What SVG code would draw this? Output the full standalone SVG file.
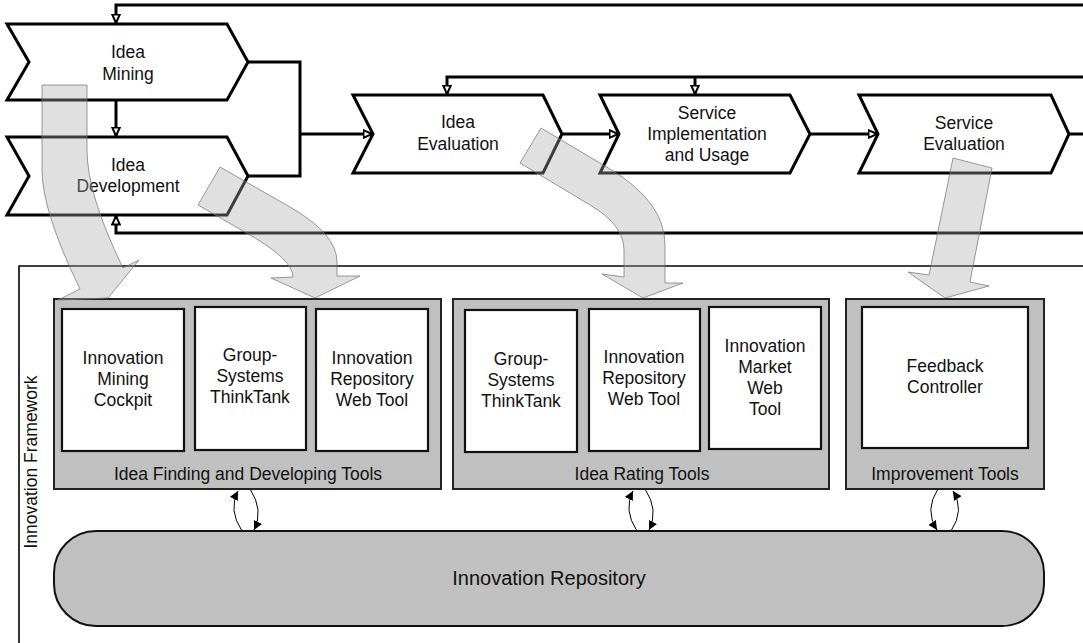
<svg xmlns="http://www.w3.org/2000/svg" width="1083" height="643" viewBox="0 0 1083 643">
<defs>
<style>
.txt{font-family:"Liberation Sans",Arial,sans-serif;font-size:17.5px;fill:#111;text-anchor:middle}
.chev{fill:#fff;stroke:#000;stroke-width:3;stroke-linejoin:miter}
.flow{fill:none;stroke:#000;stroke-width:3}
.grp{fill:#c0c0c0;stroke:#222;stroke-width:2}
.tool{fill:#fff;stroke:#111;stroke-width:2.2}
.band{fill:#a8a8a8;fill-opacity:0.36;stroke:#707070;stroke-opacity:0.7;stroke-width:1}
.bidi{fill:none;stroke:#000;stroke-width:1}
</style>
<marker id="ah" viewBox="0 0 10 10" refX="9.5" refY="5" markerWidth="10" markerHeight="10" markerUnits="userSpaceOnUse" orient="auto">
<path d="M1,1.2 L9.5,5 L1,8.8 Z" fill="#fff" stroke="#000" stroke-width="2"/>
</marker>
<marker id="sh" viewBox="0 0 10 10" refX="10" refY="5" markerWidth="9" markerHeight="9" markerUnits="userSpaceOnUse" orient="auto">
<path d="M0,0 L10,5 L0,10 Z" fill="#000"/>
</marker>
</defs>
<rect width="1083" height="643" fill="#fff"/>

<g id="frame">
<path d="M1083,266 L19,266 L19,643" fill="none" stroke="#000" stroke-width="1.6"/>
<text class="txt" transform="translate(37,462) rotate(-90)">Innovation Framework</text>
</g>

<g id="connectors">
<path class="flow" d="M1083,5 L116,5 L116,23" marker-end="url(#ah)"/>
<path class="flow" d="M116,100 L116,136" marker-end="url(#ah)"/>
<path class="flow" d="M1083,233 L116,233 L116,216" marker-end="url(#ah)"/>
<path class="flow" d="M248,62 L300,62 L300,176 L248,176"/>
<path class="flow" d="M300,134 L372,134" marker-end="url(#ah)"/>
<path class="flow" d="M1083,77 L447,77 L447,94" marker-end="url(#ah)"/>
<path class="flow" d="M695,77 L695,94" marker-end="url(#ah)"/>
<path class="flow" d="M562,134 L618,134" marker-end="url(#ah)"/>
<path class="flow" d="M810,134 L877,134" marker-end="url(#ah)"/>
<path class="flow" d="M1069,134 L1083,134"/>
<path class="bidi" d="M242,531 Q228,510 238,491" marker-end="url(#sh)"/>
<path class="bidi" d="M250,489 Q264,510 254,530" marker-end="url(#sh)"/>
<path class="bidi" d="M637,531 Q623,510 633,491" marker-end="url(#sh)"/>
<path class="bidi" d="M645,489 Q659,510 649,530" marker-end="url(#sh)"/>
<path class="bidi" d="M938,489 Q924,510 937,530" marker-end="url(#sh)"/>
<path class="bidi" d="M951,531 Q965,510 953,491" marker-end="url(#sh)"/>
</g>

<g id="idea-mining">
<polygon class="chev" points="7,24 227,24 248,62 227,100 7,100 29,62"/>
<text class="txt" x="128" y="58">Idea</text>
<text class="txt" x="128" y="80">Mining</text>
</g>
<g id="idea-development">
<polygon class="chev" points="7,137 227,137 248,176 227,215 7,215 29,176"/>
<text class="txt" x="128" y="171">Idea</text>
<text class="txt" x="128" y="192">Development</text>
</g>
<g id="idea-evaluation">
<polygon class="chev" points="353,95 543,95 562,134 543,173 353,173 373,134"/>
<text class="txt" x="458" y="128">Idea</text>
<text class="txt" x="458" y="150">Evaluation</text>
</g>
<g id="service-implementation">
<polygon class="chev" points="600,95 790,95 810,134 790,173 600,173 619,134"/>
<text class="txt" x="707" y="119">Service</text>
<text class="txt" x="707" y="140">Implementation</text>
<text class="txt" x="707" y="161">and Usage</text>
</g>
<g id="service-evaluation">
<polygon class="chev" points="859,95 1051,95 1069,134 1051,173 859,173 878,134"/>
<text class="txt" x="964" y="129">Service</text>
<text class="txt" x="964" y="150">Evaluation</text>
</g>

<g id="idea-finding-tools">
<rect class="grp" x="54" y="299" width="387" height="190"/>
<rect class="tool" x="62" y="309" width="122" height="142"/>
<text class="txt" x="123" y="364">Innovation</text>
<text class="txt" x="123" y="385">Mining</text>
<text class="txt" x="123" y="406">Cockpit</text>
<rect class="tool" x="195" y="307" width="111" height="143"/>
<text class="txt" x="250" y="361">Group-</text>
<text class="txt" x="250" y="382">Systems</text>
<text class="txt" x="250" y="403">ThinkTank</text>
<rect class="tool" x="316" y="309" width="112" height="142"/>
<text class="txt" x="372" y="364">Innovation</text>
<text class="txt" x="372" y="385">Repository</text>
<text class="txt" x="372" y="406">Web Tool</text>
<text class="txt" x="248" y="480">Idea Finding and Developing Tools</text>
</g>

<g id="idea-rating-tools">
<rect class="grp" x="453" y="299" width="376" height="190"/>
<rect class="tool" x="465" y="310" width="112" height="142"/>
<text class="txt" x="521" y="365">Group-</text>
<text class="txt" x="521" y="386">Systems</text>
<text class="txt" x="521" y="407">ThinkTank</text>
<rect class="tool" x="589" y="309" width="111" height="142"/>
<text class="txt" x="644" y="363">Innovation</text>
<text class="txt" x="644" y="384">Repository</text>
<text class="txt" x="644" y="405">Web Tool</text>
<rect class="tool" x="709" y="307" width="112" height="142"/>
<text class="txt" x="765" y="352">Innovation</text>
<text class="txt" x="765" y="373">Market</text>
<text class="txt" x="765" y="394">Web</text>
<text class="txt" x="765" y="415">Tool</text>
<text class="txt" x="642" y="480">Idea Rating Tools</text>
</g>

<g id="improvement-tools">
<rect class="grp" x="846" y="299" width="198" height="190"/>
<rect class="tool" x="862" y="307" width="166" height="141"/>
<text class="txt" x="945" y="372">Feedback</text>
<text class="txt" x="945" y="393">Controller</text>
<text class="txt" x="945" y="480">Improvement Tools</text>
</g>

<g id="innovation-repository">
<rect x="54" y="531" width="990" height="95" rx="42" ry="42" fill="#c0c0c0" stroke="#111" stroke-width="2"/>
<text class="txt" x="549" y="585" style="font-size:20px">Innovation Repository</text>
</g>

<g id="transfer-arrows">
<path class="band" d="M42,85 L87,85 L87,150 Q87,194 123,268 L139,260 L108,298 L58,300 L80,289 Q42,211 42,170 Z"/>
<path class="band" d="M220,167 L290,207 Q337,234 337,262 L337,276 L360,276 L315,298 L271,278 L293,277 Q293,260 250,235 L198,205 Z"/>
<path class="band" d="M541,128 L610,169 Q665,202 665,245 L665,283 L683,283 L643,298 L602,274 L624,277 L624,250 Q624,225 590,205 L520,163 Z"/>
<path class="band" d="M953,158 L992,168 L970,282 L989,286 L945,298 L908,272 L929,275 Z"/>
</g>
</svg>
